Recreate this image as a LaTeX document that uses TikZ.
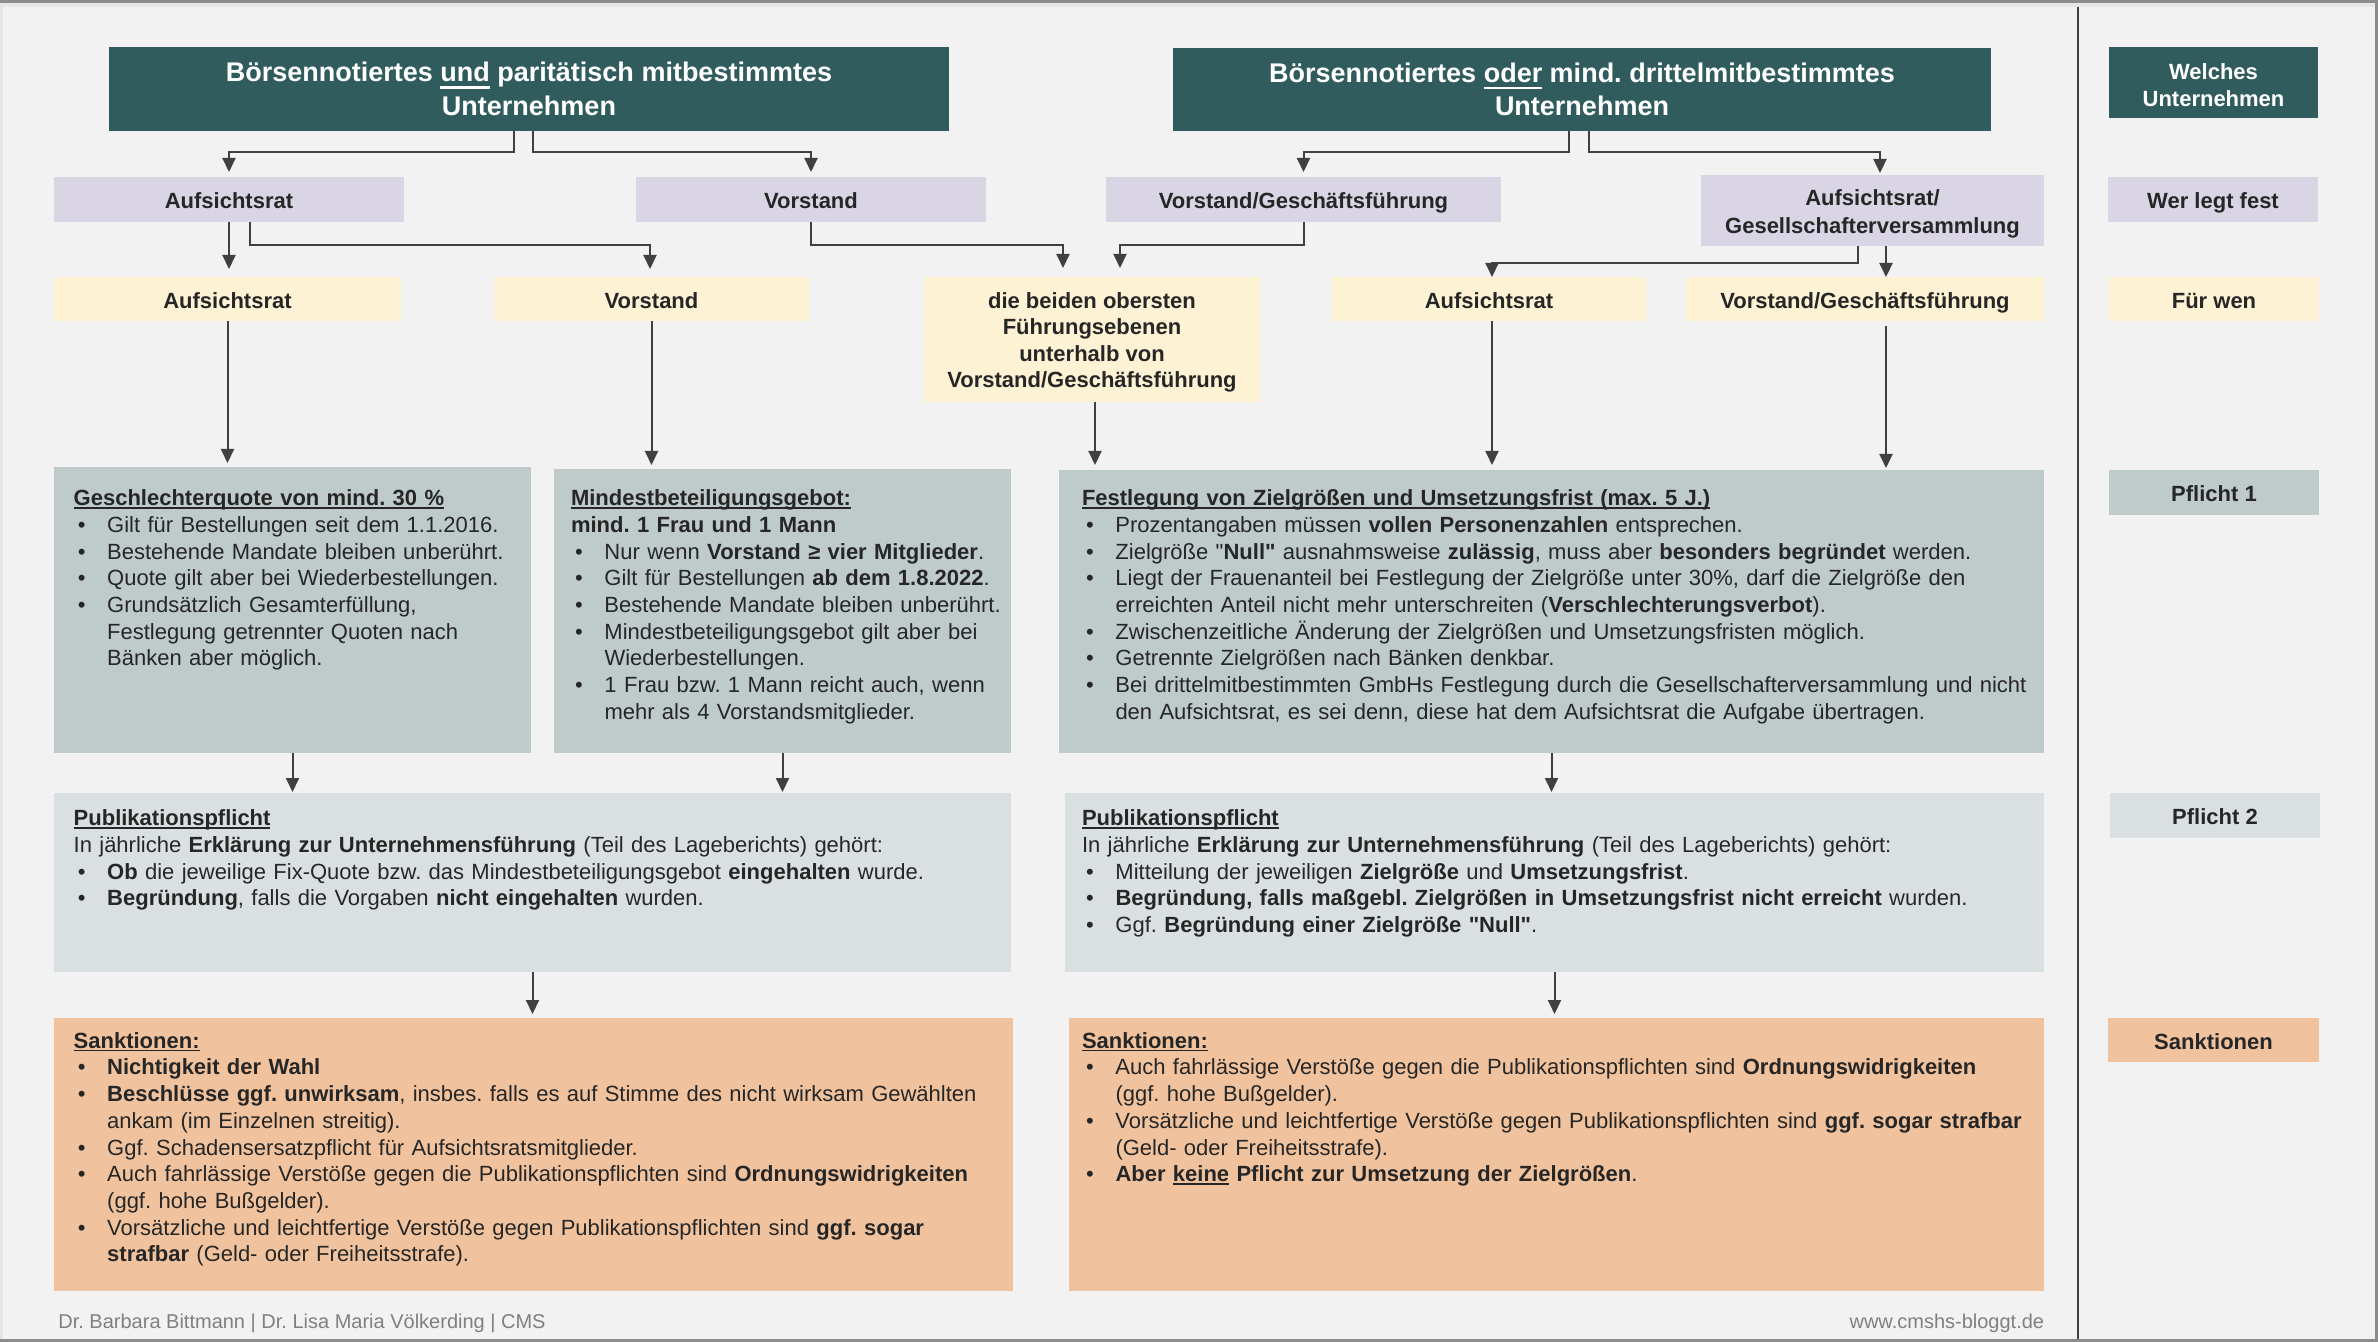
\documentclass[tikz,border=0pt]{standalone}
\usepackage{fontspec}
\setmainfont{Liberation Sans}[Ligatures=TeXOff]
\usetikzlibrary{arrows.meta}
\frenchspacing
\definecolor{hdrteal}{RGB}{48,92,94}
\definecolor{lav}{RGB}{217,213,229}
\definecolor{cream}{RGB}{253,242,212}
\definecolor{pfa}{RGB}{191,202,203}
\definecolor{pfb}{RGB}{218,224,226}
\definecolor{sank}{RGB}{240,195,158}
\definecolor{bggray}{RGB}{242,242,242}
\definecolor{arrgray}{RGB}{64,64,64}
\definecolor{txt}{RGB}{38,38,38}
\definecolor{foot}{RGB}{128,128,128}
\definecolor{framegray}{RGB}{140,140,140}
\definecolor{framelight}{RGB}{230,230,230}

\newcommand\bodyfont{\fontsize{11}{13.35}\selectfont}
\newcommand\ul[1]{\setbox0=\hbox{#1}\leavevmode\rlap{\rule[-1.5pt]{\wd0}{0.7pt}}\box0\relax}
\newcommand\hul[1]{\setbox0=\hbox{#1}\leavevmode\rlap{\rule[-3.4pt]{\wd0}{1.2pt}}\box0\relax}
\newcommand\bit{\par\hangindent=16.75pt\hangafter=1\noindent\makebox[16.75pt][l]{\hspace{2.1pt}•}}
\newcommand\mkbox[7]{\node[#2,minimum width={(#5-#3)*0.5pt},minimum height={(#6-#4)*0.5pt}] (#1) at ({(#3+#5)/2},{(#4+#6)/2}) {#7};}
\newcommand\lift[1]{\rule{0pt}{#1}}

\tikzset{
  bx/.style={rectangle, inner sep=0pt, outer sep=0pt, draw=none, text=txt, align=center,
    font=\fontsize{11}{13.3}\selectfont\bfseries},
  one/.style={text height=9.4pt, text depth=0pt},
  hdr/.style={bx, fill=hdrteal, text=white, font=\fontsize{13.5}{16.65}\selectfont\bfseries},
  side/.style={bx, fill=hdrteal, text=white, font=\fontsize{11}{13.5}\selectfont\bfseries},
  lavbox/.style={bx, fill=lav},
  crbox/.style={bx, fill=cream},
  pabox/.style={bx, fill=pfa},
  pbbox/.style={bx, fill=pfb},
  sbox/.style={bx, fill=sank},
  body/.style={inner sep=0pt, outer sep=0pt, anchor=north west, text=txt, text width=#1, font=\bodyfont},
  arr/.style={draw=arrgray, line width=1pt, -{Triangle[width=6.5pt,length=7pt]}},
  footer/.style={inner sep=0pt, text=foot, font=\fontsize{10}{12}\selectfont},
}

\begin{document}
\begin{tikzpicture}[x=0.5pt,y=-0.5pt]
\useasboundingbox (0,0) rectangle (2378,1342);
% background and frame
\fill[bggray] (0,0) rectangle (2378,1342);
\fill[framelight] (0,0) rectangle (2.5,1342);
\fill[framelight] (0,3.5) rectangle (2378,7);
\fill[framegray] (0,0) rectangle (2378,3.5);
\fill[framegray] (2375,0) rectangle (2378,1342);
\fill[framegray] (0,1339) rectangle (2378,1342);
\draw[arrgray, line width=0.65pt] (2078,7) -- (2078,1339);

% headers
\mkbox{hL}{hdr}{109}{47}{949}{131}{Börsennotiertes \hul{und} paritätisch mitbestimmtes\\Unternehmen}
\mkbox{hR}{hdr}{1173}{48}{1991}{131}{Börsennotiertes \hul{oder} mind. drittelmitbestimmtes\\Unternehmen}
\mkbox{wU}{side}{2109}{47}{2318}{118}{\lift{11pt}Welches\\Unternehmen}

% who decides
\mkbox{pAL}{lavbox,one}{54}{177}{404}{222}{Aufsichtsrat}
\mkbox{pVL}{lavbox,one}{636}{177}{986}{222}{Vorstand}
\mkbox{pVG}{lavbox,one}{1106}{177}{1501}{222}{Vorstand/Geschäftsführung}
\mkbox{pAG}{lavbox,font=\fontsize{11}{14}\selectfont\bfseries}{1701}{175}{2044}{246}{\lift{11pt}Aufsichtsrat/\\Gesellschafterversammlung}
\mkbox{wL}{lavbox,one}{2108}{177}{2318}{222}{Wer legt fest}

% for whom
\mkbox{yAL}{crbox,one}{54}{277}{401}{321}{Aufsichtsrat}
\mkbox{yVL}{crbox,one}{494}{277}{809}{321}{Vorstand}
\mkbox{yBO}{crbox,font=\fontsize{11}{13.25}\selectfont\bfseries}{924}{277}{1260}{402}{\lift{11pt}die beiden obersten\\Führungsebenen\\unterhalb von\\Vorstand/Geschäftsführung}
\mkbox{yAR}{crbox,one}{1332}{277}{1646}{321}{Aufsichtsrat}
\mkbox{yVR}{crbox,one}{1686}{277}{2044}{321}{Vorstand/Geschäftsführung}
\mkbox{wF}{crbox,one}{2109}{277}{2319}{321}{Für wen}

% duty 1
\mkbox{gL}{pabox}{54}{467}{531}{753}{}
\mkbox{gM}{pabox}{554}{469}{1011}{753}{}
\mkbox{gR}{pabox}{1059}{470}{2044}{753}{}
\mkbox{wP1}{pabox,one}{2109}{470}{2319}{515}{Pflicht 1}

% duty 2
\mkbox{qL}{pbbox}{54}{793}{1011}{972}{}
\mkbox{qR}{pbbox}{1065}{793}{2044}{972}{}
\mkbox{wP2}{pbbox,one}{2110}{793}{2320}{838}{Pflicht 2}

% sanctions
\mkbox{sL}{sbox}{54}{1018}{1013}{1291}{}
\mkbox{sR}{sbox}{1069}{1018}{2044}{1291}{}
\mkbox{wS}{sbox,one}{2108}{1018}{2319}{1062}{Sanktionen}

% body texts
\node[body=235pt] (tgL) at (73.7,487) {\raggedright\strut\ul{\textbf{Geschlechterquote von mind. 30~\%}}%
\bit Gilt für Bestellungen seit dem 1.1.2016.%
\bit Bestehende Mandate bleiben unberührt.%
\bit Quote gilt aber bei Wiederbestellungen.%
\bit Grundsätzlich Gesamterfüllung,\break Festlegung getrennter Quoten nach\break Bänken aber möglich.\par};

\node[body=235pt] (tgM) at (571,487) {\raggedright\strut\ul{\textbf{Mindestbeteiligungsgebot:}}\par
\textbf{mind. 1 Frau und 1 Mann}%
\bit Nur wenn \textbf{Vorstand ≥ vier Mitglieder}.%
\bit Gilt für Bestellungen \textbf{ab dem 1.8.2022}.%
\bit Bestehende Mandate bleiben unberührt.%
\bit Mindestbeteiligungsgebot gilt aber bei\break Wiederbestellungen.%
\bit 1 Frau bzw. 1 Mann reicht auch, wenn\break mehr als 4 Vorstandsmitglieder.\par};

\node[body=500pt] (tgR) at (1082,487) {\raggedright\strut\ul{\textbf{Festlegung von Zielgrößen und Umsetzungsfrist (max. 5 J.)}}%
\bit Prozentangaben müssen \textbf{vollen Personenzahlen} entsprechen.%
\bit Zielgröße "\textbf{Null"} ausnahmsweise \textbf{zulässig}, muss aber \textbf{besonders begründet} werden.%
\bit Liegt der Frauenanteil bei Festlegung der Zielgröße unter 30\%, darf die Zielgröße den\break erreichten Anteil nicht mehr unterschreiten (\textbf{Verschlechterungsverbot}).%
\bit Zwischenzeitliche Änderung der Zielgrößen und Umsetzungsfristen möglich.%
\bit Getrennte Zielgrößen nach Bänken denkbar.%
\bit Bei drittelmitbestimmten GmbHs Festlegung durch die Gesellschafterversammlung und nicht\break den Aufsichtsrat, es sei denn, diese hat dem Aufsichtsrat die Aufgabe übertragen.\par};

\node[body=480pt] (tqL) at (73.7,807) {\raggedright\strut\ul{\textbf{Publikationspflicht}}\par
In jährliche \textbf{Erklärung zur Unternehmensführung} (Teil des Lageberichts) gehört:%
\bit \textbf{Ob} die jeweilige Fix-Quote bzw. das Mindestbeteiligungsgebot \textbf{eingehalten} wurde.%
\bit \textbf{Begründung}, falls die Vorgaben \textbf{nicht eingehalten} wurden.\par};

\node[body=490pt] (tqR) at (1082,807) {\raggedright\strut\ul{\textbf{Publikationspflicht}}\par
In jährliche \textbf{Erklärung zur Unternehmensführung} (Teil des Lageberichts) gehört:%
\bit Mitteilung der jeweiligen \textbf{Zielgröße} und \textbf{Umsetzungsfrist}.%
\bit \textbf{Begründung, falls maßgebl. Zielgrößen in Umsetzungsfrist nicht erreicht} wurden.%
\bit Ggf. \textbf{Begründung einer Zielgröße "Null"}.\par};

\node[body=480pt] (tsL) at (73.7,1029.6) {\raggedright\strut\ul{\textbf{Sanktionen:}}%
\bit \textbf{Nichtigkeit der Wahl}%
\bit \textbf{Beschlüsse ggf. unwirksam}, insbes. falls es auf Stimme des nicht wirksam Gewählten\break ankam (im Einzelnen streitig).%
\bit Ggf. Schadensersatzpflicht für Aufsichtsratsmitglieder.%
\bit Auch fahrlässige Verstöße gegen die Publikationspflichten sind \textbf{Ordnungswidrigkeiten}\break (ggf. hohe Bußgelder).%
\bit Vorsätzliche und leichtfertige Verstöße gegen Publikationspflichten sind \textbf{ggf. sogar}\break \textbf{strafbar} (Geld- oder Freiheitsstrafe).\par};

\node[body=490pt] (tsR) at (1082,1029.6) {\raggedright\strut\ul{\textbf{Sanktionen:}}%
\bit Auch fahrlässige Verstöße gegen die Publikationspflichten sind \textbf{Ordnungswidrigkeiten}\break (ggf. hohe Bußgelder).%
\bit Vorsätzliche und leichtfertige Verstöße gegen Publikationspflichten sind \textbf{ggf. sogar strafbar}\break (Geld- oder Freiheitsstrafe).%
\bit \textbf{Aber \ul{keine} Pflicht zur Umsetzung der Zielgrößen}.\par};

% footer
\node[footer, anchor=base west] (fL) at (58,1328) {Dr. Barbara Bittmann | Dr. Lisa Maria Völkerding | CMS};
\node[footer, anchor=base east] (fR) at (2044.5,1328) {www.cmshs-bloggt.de};

% connectors
\draw[arr, shorten >=2.5pt] ([xshift=-7.5pt]hL.south) -- ++(0,21) -| (pAL.north);
\draw[arr, shorten >=2.5pt] ([xshift=2pt]hL.south) -- ++(0,21) -| (pVL.north);
\draw[arr, shorten >=4pt] (pAL.south) -- (pAL.south |- yAL.north);
\draw[arr, shorten >=4pt] ([xshift=10.5pt]pAL.south) -- ++(0,23) -| ([xshift=-0.75pt]yVL.north);
\draw[arr, shorten >=4.5pt] (pVL.south) -- ++(0,23) -| ([xshift=-14.5pt]yBO.north);
\draw[arr, shorten >=4.5pt] (pVG.south) -- ++(0,23) -| ([xshift=14pt]yBO.north);
\draw[arr, shorten >=2.5pt] ([xshift=-6.5pt]hR.south) -- ++(0,21) -| (pVG.north);
\draw[arr, shorten >=1pt] ([xshift=3.5pt]hR.south) -- ++(0,21) -| ([xshift=3.75pt]pAG.north);
\draw[arr] ([xshift=-7.5pt]pAG.south) -- ++(0,17) -| ([xshift=1.5pt]yAR.north);
\coordinate (cAG) at ([xshift=6.75pt]pAG.south);
\draw[arr] (cAG) -- (cAG |- yVR.north);

\draw[arr, shorten >=2pt] (yAL.south) -- (yAL.south |- gL.north);
\draw[arr, shorten >=2pt] (yVL.south) -- (yVL.south |- gM.north);
\coordinate (cBO) at ([xshift=1.5pt]yBO.south);
\draw[arr, shorten >=2.5pt] (cBO) -- (cBO |- gR.north);
\coordinate (cAR) at ([xshift=1.5pt]yAR.south);
\draw[arr, shorten >=2.5pt] (cAR) -- (cAR |- gR.north);
\coordinate (cVR) at ([xshift=10.5pt]yVR.south);
\draw[arr, shorten <=2.5pt, shorten >=1pt] (cVR) -- (cVR |- gR.north);

\draw[arr, shorten >=0.5pt] (gL.south) -- (gL.south |- qL.north);
\draw[arr, shorten >=0.5pt] (gM.south) -- (gM.south |- qL.north);
\draw[arr, shorten >=0.5pt] (gR.south) -- (gR.south |- qR.north);
\draw[arr, shorten >=2pt] (qL.south) -- (qL.south |- sL.north);
\draw[arr, shorten >=2pt] (qR.south) -- (qR.south |- sR.north);
\end{tikzpicture}
\end{document}
